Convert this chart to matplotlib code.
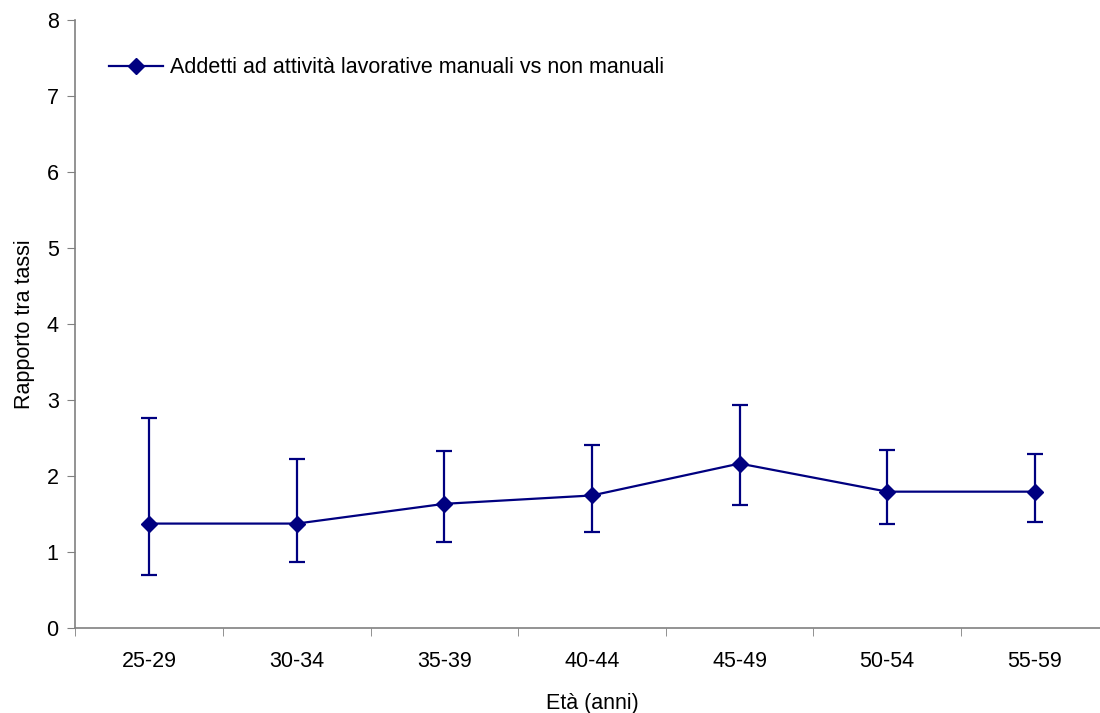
import matplotlib
matplotlib.use("Agg")
import matplotlib.pyplot as plt

plt.rcParams["font.family"] = ["Liberation Sans", "DejaVu Sans"]

# dati
classi_eta = ["25-29", "30-34", "35-39", "40-44", "45-49", "50-54", "55-59"]
rapporto = [1.37, 1.37, 1.63, 1.74, 2.16, 1.79, 1.79]
ic_inf = [0.69, 0.87, 1.13, 1.26, 1.61, 1.37, 1.39]
ic_sup = [2.76, 2.22, 2.33, 2.40, 2.93, 2.34, 2.29]

NAVY = "#000080"
GRIGIO = "#808080"

fig = plt.figure(figsize=(11, 7.13), dpi=100)
# l'area del grafico esce un po' a destra, come nell'originale
ax = fig.add_axes([75.4 / 1100, 1 - 627.7 / 713, 1033.2 / 1100, 608 / 713])

x = list(range(len(classi_eta)))
err = [[r - lo for r, lo in zip(rapporto, ic_inf)],
       [hi - r for r, hi in zip(rapporto, ic_sup)]]

ax.errorbar(x, rapporto, yerr=err, fmt="none", ecolor=NAVY, elinewidth=1.6,
            capsize=5.5, capthick=1.6)
ax.plot(x, rapporto, color=NAVY, lw=1.6, marker="D", markersize=8,
        label="Addetti ad attività lavorative manuali vs non manuali")

ax.set_xlim(-0.5, len(classi_eta) - 0.5)
ax.set_ylim(0, 8)
ax.set_yticks(range(0, 9))
ax.set_xticks(x)
ax.set_xticklabels(classi_eta)
ax.set_xticks([i + 0.5 for i in range(-1, len(classi_eta))], minor=True)
ax.tick_params(axis="x", which="major", length=0, pad=17, labelsize=15.5)
ax.tick_params(axis="x", which="minor", length=6, color=GRIGIO)
ax.tick_params(axis="y", length=6, color=GRIGIO, pad=6, labelsize=15.5)

for lato in ("top", "right"):
    ax.spines[lato].set_visible(False)
for lato in ("left", "bottom"):
    ax.spines[lato].set_color(GRIGIO)
    ax.spines[lato].set_linewidth(1.2)

ax.set_xlabel("Età (anni)", fontsize=15.5, labelpad=15)
ax.set_ylabel("Rapporto tra tassi", fontsize=15.5, labelpad=8)

ax.legend(loc="upper left", bbox_to_anchor=(0.014, 0.97), frameon=False,
          fontsize=15.5, handlelength=2.5, handletextpad=0.3)

fig.savefig("out.png", dpi=100)
